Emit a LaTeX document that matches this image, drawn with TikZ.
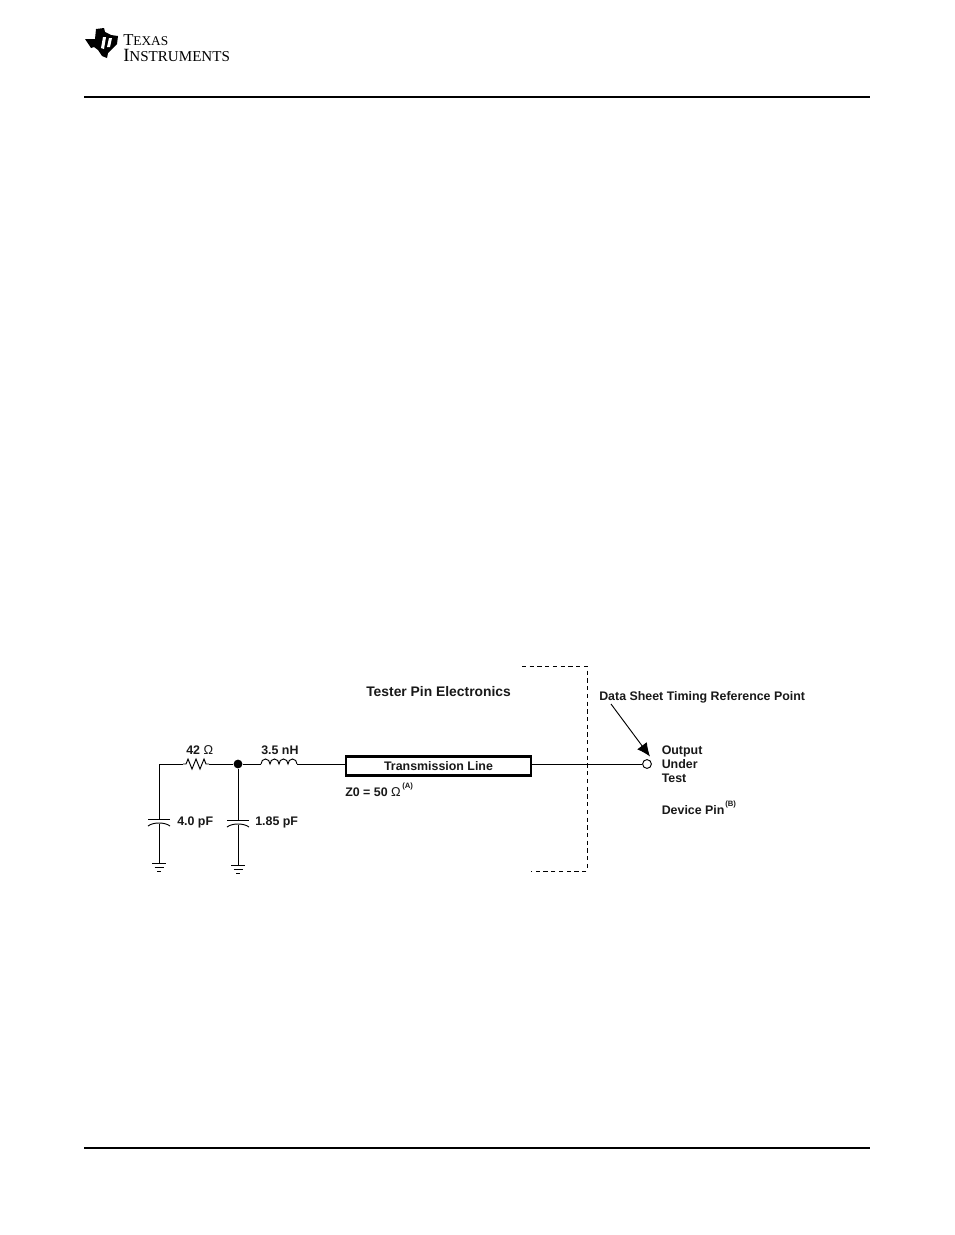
\documentclass[tikz,border=0pt]{standalone}
\usepackage{fontspec}
\setmainfont{Liberation Sans}
\newfontfamily\logofont{Liberation Serif}
\usetikzlibrary{arrows.meta,calc}
\tikzset{
  x=0.75pt,y=-0.75pt,
  wire/.style={line width=0.7pt,black},
  rulebar/.style={line width=1.2pt,black},
  lab/.style={font=\fontsize{9.3pt}{11pt}\selectfont\bfseries,inner sep=0pt,anchor=base west,text=black!90},
  suplab/.style={font=\fontsize{5.8pt}{7pt}\selectfont\bfseries,inner sep=0pt,anchor=base west,text=black!90},
  plate/.style={line width=0.7pt},
  dashbox/.style={line width=0.7pt,dash pattern=on 3.2pt off 2.6pt},
}
\newcommand{\groundsym}[1]{%
  \draw[plate] ($(#1)+(-7,0)$) -- ($(#1)+(7,0)$);
  \draw[plate] ($(#1)+(-4.5,4)$) -- ($(#1)+(4.5,4)$);
  \draw[plate] ($(#1)+(-2,8)$) -- ($(#1)+(2,8)$);}
\begin{document}
\begin{tikzpicture}
\useasboundingbox[fill=white] (0,0) rectangle (954,1235);
% header
\coordinate (hl) at (84,97); \coordinate (hr) at (870,97);
\coordinate (fl) at (84,1148); \coordinate (fr) at (870,1148);
\draw[rulebar] (hl) -- (hr);
\draw[rulebar] (fl) -- (fr);
% logo
\fill[black] (85,39) -- (95,39) -- (96,29) -- (104,28) -- (105,32) -- (111,35) -- (118,36) -- (117,44) -- (112,49) -- (108,53) -- (107,58) -- (102,56) -- (98,50) -- (94,47) -- (91,48) -- cycle;
\fill[white] (103,37) -- (106,37) -- (104,49) -- (101,48) -- cycle;
\fill[white] (109,38) -- (112,38) -- (110,47) -- (107,47) -- cycle;
\node[inner sep=0pt,anchor=base west] (logoa) at (123,45) {\logofont\fontsize{12.5pt}{12.5pt}\selectfont T\fontsize{10pt}{10pt}\selectfont EXAS};
\node[inner sep=0pt,anchor=base west] (logob) at (123,61) {\logofont\fontsize{14pt}{14pt}\selectfont I\fontsize{11.3pt}{11.3pt}\selectfont NSTRUMENTS};
% circuit coordinates
\coordinate (corner) at (159,764);
\coordinate (rA) at (183,764); \coordinate (rB) at (209,764);
\node[circle,fill=black,inner sep=0pt,minimum size=6.6pt] (junction) at (238,764) {};
\coordinate (lA) at (261,764); \coordinate (lB) at (297,764);
\node[draw,line width=1.8pt,minimum width=139pt,minimum height=14pt,inner sep=0pt] (tline) at (438.5,766) {};
\node[lab,anchor=center] (tlabel) at (438.5,766) {Transmission Line};
\node[circle,draw,line width=0.7pt,fill=white,inner sep=0pt,minimum size=6.6pt] (pin) at (647,764) {};
% wires
\draw[wire] (corner) -- (rA);
\draw[wire] (rA) -- ++(3,0) -- ++(2,-5) -- ++(4,10) -- ++(4,-10) -- ++(4,10) -- ++(4,-10) -- ++(2,5) -- (rB);
\draw[wire] (rB) -- (junction);
\draw[wire] (junction) -- (lA);
\draw[wire] (lA) arc[start angle=180,end angle=360,x radius=4.5,y radius=5]
  arc[start angle=180,end angle=360,x radius=4.5,y radius=5]
  arc[start angle=180,end angle=360,x radius=4.5,y radius=5]
  arc[start angle=180,end angle=360,x radius=4.5,y radius=5];
\draw[wire] (lB) -- (tline.west |- lB);
\draw[wire] (tline.east |- pin) -- (pin);
% left cap
\coordinate (c1t) at (159,819); \coordinate (c1b) at (159,823.5); \coordinate (g1) at (159,863);
\draw[wire] (corner) -- (c1t);
\draw[plate] (148,819) -- (170,819);
\draw[plate] (148,826) .. controls (153,822) and (165,822) .. (170,826);
\draw[wire] (c1b) -- (g1);
\groundsym{g1}
% right cap
\coordinate (c2t) at (238,820); \coordinate (c2b) at (238,824.5); \coordinate (g2) at (238,865);
\draw[wire] (junction) -- (c2t);
\draw[plate] (227,820) -- (249,820);
\draw[plate] (227,827) .. controls (232,823) and (244,823) .. (249,827);
\draw[wire] (c2b) -- (g2);
\groundsym{g2}
% dashed boundary
\coordinate (da) at (522,666); \coordinate (db) at (587,666); \coordinate (dc) at (587,871); \coordinate (dd) at (531,871);
\draw[dashbox] (da) -- (db) -- (dc) -- (dd);
% arrow
\coordinate (arrowstart) at (611,704);
\coordinate (arrowend) at (650,756.5);
\draw[line width=0.7pt,-{Latex[length=10pt,width=9pt]}] (arrowstart) -- (arrowend);
% labels
\node[lab] (l42) at (186,754) {42 {\fontsize{9.6pt}{10pt}\selectfont\mdseries Ω}};
\node[lab] (l35) at (261,754) {3.5 nH};
\node[lab] (l40) at (177,825.5) {4.0 pF};
\node[lab] (l185) at (255,825.5) {1.85 pF};
\node[lab,font=\fontsize{10.4pt}{12pt}\selectfont\bfseries] (ltester) at (366,696) {Tester Pin Electronics};
\node[lab] (lz0) at (345,796) {Z0 = 50 {\fontsize{9.6pt}{10pt}\selectfont\mdseries Ω}};
\node[suplab] (la) at (402,788.5) {(A)};
\node[lab] (ldata) at (599,700) {Data Sheet Timing Reference Point};
\node[lab] (lo) at (661.5,754) {Output};
\node[lab] (lu) at (661.5,768) {Under};
\node[lab] (lt) at (661.5,782) {Test};
\node[lab] (ld) at (661.5,814.5) {Device Pin};
\node[suplab] (lb) at (725,806.5) {(B)};
\end{tikzpicture}
\end{document}
